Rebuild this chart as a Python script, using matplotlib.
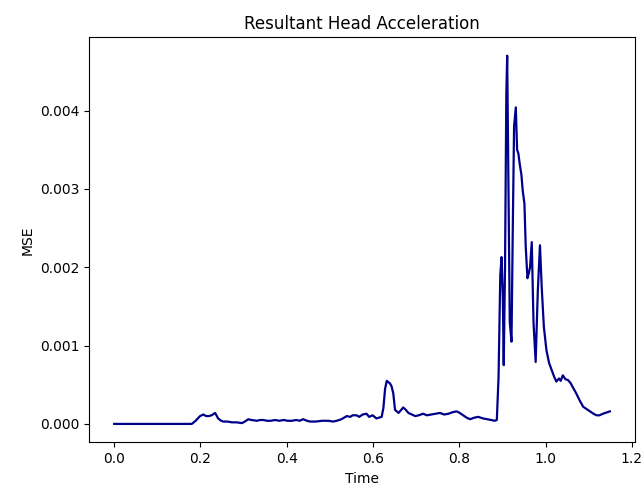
import numpy as np
import matplotlib.pyplot as plt

# values (one row per stretch of the curve)
time = [
    0.0, 0.05, 0.10, 0.149, 0.180, 0.189, 0.199, 0.207, 0.213, 0.219, 0.226, 0.234, 0.237, 0.241, 0.248, 0.253,
    0.263, 0.273, 0.284, 0.296, 0.303, 0.311, 0.318, 0.331, 0.338, 0.346, 0.354, 0.363, 0.373, 0.383, 0.393,
    0.402, 0.412, 0.422, 0.430, 0.438, 0.447, 0.454,
    0.467, 0.482, 0.497, 0.507, 0.516, 0.527, 0.539, 0.547, 0.553, 0.562, 0.568, 0.576, 0.585, 0.591, 0.599,
    0.608, 0.614, 0.620,
    0.624, 0.628, 0.632, 0.636, 0.639, 0.643, 0.647, 0.651, 0.655, 0.659, 0.664, 0.670, 0.676, 0.682, 0.690,
    0.698, 0.706, 0.716, 0.725, 0.735, 0.745, 0.755, 0.765, 0.775, 0.785, 0.794, 0.801, 0.809, 0.817, 0.825,
    0.835, 0.844, 0.855, 0.865, 0.874, 0.882,
    0.887, 0.891, 0.895, 0.898, 0.901, 0.903, 0.906, 0.909, 0.911, 0.914, 0.917, 0.921, 0.924, 0.927, 0.931,
    0.934, 0.937, 0.940, 0.944, 0.947, 0.951, 0.954, 0.958, 0.961, 0.964, 0.968,
    0.972, 0.977, 0.982, 0.987, 0.991, 0.996, 1.002, 1.008, 1.014, 1.020, 1.025, 1.031, 1.035, 1.040, 1.046,
    1.052, 1.058, 1.064, 1.071, 1.079, 1.087, 1.095, 1.103, 1.111, 1.118, 1.125, 1.133, 1.149,
]
mse = [
    0.0, 0.0, 0.0, 0.0, 0.0, 0.00004, 0.00010, 0.00012, 0.00010, 0.00010, 0.00011, 0.00014, 0.00011, 0.00007,
    0.00004, 0.00003,
    0.00003, 0.00002, 0.00002, 0.00001, 0.00003, 0.00006, 0.00005, 0.00004, 0.00005, 0.00005, 0.00004, 0.00004,
    0.00005, 0.00004, 0.00005, 0.00004, 0.00004, 0.00005, 0.00004, 0.00006, 0.00004, 0.00003,
    0.00003, 0.00004, 0.00004, 0.00003, 0.00004, 0.00006, 0.00010, 0.00009, 0.00011, 0.00011, 0.00009, 0.00012,
    0.00013, 0.00009, 0.00011, 0.00007, 0.00008, 0.00009,
    0.00020, 0.00045, 0.00055, 0.00053, 0.00052, 0.00048, 0.00039, 0.00018, 0.00016, 0.00014, 0.00017, 0.00021,
    0.00018, 0.00014, 0.00012, 0.00010, 0.00011, 0.00013, 0.00011, 0.00012, 0.00013, 0.00014, 0.00012, 0.00013,
    0.00015, 0.00016, 0.00014, 0.00011, 0.00008, 0.00006, 0.00008, 0.00009, 0.00007, 0.00006, 0.00005, 0.00004,
    0.00005, 0.00060, 0.00190, 0.00213, 0.00160, 0.00075, 0.00200, 0.00420, 0.00470, 0.00300, 0.00130, 0.00105,
    0.00250, 0.00380, 0.00404, 0.00350, 0.00345, 0.00332, 0.00318, 0.00298, 0.00281, 0.00226, 0.00186, 0.00192,
    0.00200, 0.00232,
    0.00130, 0.00079, 0.00170, 0.00228, 0.00175, 0.00124, 0.00094, 0.00078, 0.00069, 0.00060, 0.00054, 0.00058,
    0.00055, 0.00062, 0.00057, 0.00056, 0.00052, 0.00046, 0.00039, 0.00030, 0.00022, 0.00019, 0.00016, 0.00013,
    0.00011, 0.00011, 0.00013, 0.00016,
]

fig, ax = plt.subplots(figsize=(6.43, 4.88), dpi=100)
ax.plot(time, mse, color='darkblue', linewidth=1.6)
ax.set_title("Resultant Head Acceleration")
ax.set_xlabel("Time")
ax.set_ylabel("MSE")
ax.set_yticks([0.0, 0.001, 0.002, 0.003, 0.004])
ax.set_yticklabels(["0.000", "0.001", "0.002", "0.003", "0.004"])
plt.subplots_adjust(left=0.139, right=0.987, top=0.9236, bottom=0.0936)
plt.savefig("out.png")
